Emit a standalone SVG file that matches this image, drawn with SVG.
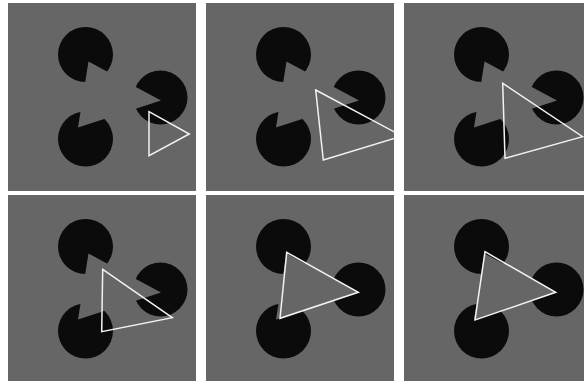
<svg xmlns="http://www.w3.org/2000/svg" width="584" height="381" viewBox="0 0 584 381">
  <style>
    .bg { fill: #666666; }
    .disc { fill: #0b0b0b; }
    .mouth { fill: #666666; }
    .tri { fill: none; stroke: #f2f2f2; stroke-width: 1.5; stroke-linejoin: miter; }
  </style>
  <defs>
    <clipPath id="panelClip"><rect x="0" y="0" width="188" height="188"/></clipPath>
    <g id="inducers">
      <rect class="bg" x="0" y="0" width="188" height="188"/>
      <circle class="disc" cx="77.5" cy="51.5" r="27.5"/>
      <circle class="disc" cx="152.5" cy="94.5" r="27"/>
      <circle class="disc" cx="77.5" cy="136" r="27.5"/>
      <polygon class="mouth" points="80.5,58.5 153,97.5 70,124.5"/>
    </g>
  </defs>
  <rect x="0" y="0" width="584" height="381" fill="#ffffff"/>

  <g id="panel1" transform="translate(8,3)" clip-path="url(#panelClip)">
    <use href="#inducers"/>
    <polygon class="tri" points="141,108.7 181.3,131 141,152.7"/>
  </g>
  <g id="panel2" transform="translate(206,3)" clip-path="url(#panelClip)">
    <use href="#inducers"/>
    <polygon class="tri" points="109.7,87 196,133 117.3,157"/>
  </g>
  <g id="panel3" transform="translate(404,3)" clip-path="url(#panelClip)">
    <use href="#inducers"/>
    <polygon class="tri" points="98.7,80.3 178.7,133.7 101,155.3"/>
  </g>
  <g id="panel4" transform="translate(8,195)" clip-path="url(#panelClip)">
    <use href="#inducers"/>
    <polygon class="tri" points="94.7,74.3 164.3,122.7 93.7,136.7"/>
  </g>
  <g id="panel5" transform="translate(206,195)" clip-path="url(#panelClip)">
    <use href="#inducers"/>
    <polygon class="tri" points="80.7,57.3 152.3,97.3 74,123.3"/>
  </g>
  <g id="panel6" transform="translate(404,195)" clip-path="url(#panelClip)">
    <use href="#inducers"/>
    <polygon class="tri" points="81,56.7 151.7,97.3 71,125"/>
  </g>
</svg>
